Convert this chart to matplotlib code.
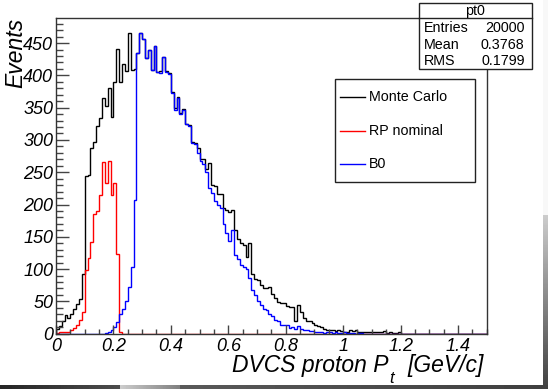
import numpy as np
import matplotlib.pyplot as plt
from matplotlib.patches import Rectangle
from matplotlib.lines import Line2D

plt.rcParams['font.family'] = ['Liberation Sans', 'DejaVu Sans']

# histogram contents, 150 bins of 0.01 GeV/c from 0 to 1.5
n_bins = 150
x_lo, x_hi = 0.0, 1.5

monte_carlo = [8, 12, 20, 29, 24, 30, 38, 46, 54, 92,
               244, 245, 288, 297, 322, 334, 365, 352, 380, 335,
               390, 441, 390, 417, 407, 465, 408, 410, 434, 466,
               457, 427, 440, 408, 446, 405, 406, 429, 407, 404,
               374, 349, 367, 341, 348, 325, 323, 297, 295, 287,
               271, 270, 255, 265, 231, 229, 217, 216, 195, 191,
               189, 192, 160, 147, 141, 137, 118, 140, 93, 85,
               83, 75, 70, 71, 73, 62, 55, 49, 47, 48,
               43, 41, 41, 19, 45, 34, 24, 20, 19, 16,
               13, 12, 10, 8, 6, 6, 5, 4, 5, 4,
               3, 3, 5, 4, 6, 3, 3, 3, 2, 2,
               3, 3, 2, 3, 4, 1, 2, 1, 1, 3]
monte_carlo = monte_carlo + [0] * (n_bins - len(monte_carlo))

rp_nominal = [1, 3, 2, 3, 2, 5, 9, 13, 21, 33,
              99, 117, 142, 185, 190, 214, 266, 233, 268, 214,
              234, 124, 3]
rp_nominal = rp_nominal + [0] * (n_bins - len(rp_nominal))

b0 = [0, 0, 0, 0, 0, 0, 0, 0, 0, 0,
      0, 0, 0, 0, 0, 0, 0, 1, 3, 5,
      10, 18, 31, 38, 50, 73, 104, 207, 434, 466,
      457, 427, 440, 408, 446, 405, 404, 429, 405, 402,
      372, 347, 365, 340, 347, 324, 321, 296, 293, 280,
      268, 262, 250, 225, 218, 206, 200, 195, 170, 156,
      143, 160, 122, 115, 106, 104, 100, 86, 68, 60,
      50, 45, 38, 36, 30, 28, 21, 20, 14, 14,
      13, 9, 11, 7, 12, 7, 6, 5, 4, 4,
      3, 2, 2, 1, 2, 2, 1, 2, 1, 1,
      2, 1, 1, 1, 0, 1, 1]
b0 = b0 + [0] * (n_bins - len(b0))

series_names = ['Monte Carlo', 'RP nominal', 'B0']
series_colors = ['black', 'red', 'blue']

stat_names = ['Entries', 'Mean', 'RMS']
stat_values = ['20000', '0.3768', '0.1799']

x_ticks = [0, 0.2, 0.4, 0.6, 0.8, 1.0, 1.2, 1.4]
x_tick_labels = ['0', '0.2', '0.4', '0.6', '0.8', '1', '1.2', '1.4']
y_ticks = [0, 50, 100, 150, 200, 250, 300, 350, 400, 450]

W, H = 548, 389
fig = plt.figure(figsize=(W / 100, H / 100), dpi=100)
fig.patch.set_facecolor('white')

ax = fig.add_axes([56 / W, 1 - 333.7 / H, (486.7 - 56) / W, (333.7 - 17.7) / H])

edges = np.linspace(x_lo, x_hi, n_bins + 1)
for vals, col in zip([monte_carlo, rp_nominal, b0], series_colors):
    ax.stairs(vals, edges, color=col, lw=1.0)

ax.set_xlim(x_lo, x_hi)
ax.set_ylim(0, 1.05 * max(monte_carlo + b0))

ax.set_xticks(x_ticks)
ax.set_xticklabels(x_tick_labels, fontstyle='italic', fontsize=13)
ax.set_yticks(y_ticks)
ax.set_yticklabels([str(v) for v in y_ticks], fontstyle='italic', fontsize=13)
ax.set_xticks(np.arange(0, 1.501, 0.05), minor=True)
ax.set_yticks(np.arange(0, 481, 10), minor=True)

ax.tick_params(axis='both', which='both', direction='in', top=False, right=False,
               color='#444444', width=1.0)
ax.tick_params(axis='x', which='major', length=6.8, pad=3)
ax.tick_params(axis='x', which='minor', length=3.4)
ax.tick_params(axis='y', which='major', length=9.4, pad=2)
ax.tick_params(axis='y', which='minor', length=4.7)
for s in ax.spines.values():
    s.set_color('#333333')
    s.set_linewidth(1.0)

# axis titles, ROOT style (aligned to the axis ends)
fig.text(15.5 / W, 1 - 18 / H, 'Events', rotation=90, ha='center', va='top',
         fontsize=16.5, fontstyle='italic')

# x title built from pieces so the subscript sits low like ROOT's #it{P}_{t}
rend = fig.canvas.get_renderer()
base_y = 1 - 371.7 / H
sub_y = 1 - 383 / H
p1 = fig.text(0, base_y, 'DVCS proton P', fontsize=16.5, fontstyle='italic', va='baseline')
p2 = fig.text(0, sub_y, 't', fontsize=12, fontstyle='italic', va='baseline')
p3 = fig.text(0, base_y, '[GeV/c]', fontsize=16.5, fontstyle='italic', va='baseline')
w1, w2, w3 = [p.get_window_extent(rend).width for p in (p1, p2, p3)]
x3 = 484 - w3
x2 = x3 - 14 - w2
x1 = x2 - 1 - w1
p1.set_x(x1 / W)
p2.set_x(x2 / W)
p3.set_x(x3 / W)

# stats box
bx0, bx1, by0, by1 = 419, 531.7, 3.3, 69.3
fig.add_artist(Rectangle((bx0 / W, 1 - by1 / H), (bx1 - bx0) / W, (by1 - by0) / H,
                         transform=fig.transFigure, fc='white', ec='#222222', lw=1.0, zorder=5))
fig.add_artist(Line2D([bx0 / W, bx1 / W], [1 - 18.3 / H, 1 - 18.3 / H],
                      transform=fig.transFigure, color='#222222', lw=1.0, zorder=6))
fig.text((bx0 + bx1) / 2 / W, 1 - 11.5 / H, 'pt0', ha='center', va='center',
         fontsize=10.3, zorder=7)
for k, (nm, val) in enumerate(zip(stat_names, stat_values)):
    yy = 1 - (28.5 + 16.4 * k) / H
    fig.text(424.3 / W, yy, nm, ha='left', va='center', fontsize=10.3, zorder=7)
    fig.text(524.5 / W, yy, val, ha='right', va='center', fontsize=10.3, zorder=7)

# legend box
lx0, lx1, ly0, ly1 = 335.3, 475, 79.3, 182.3
fig.add_artist(Rectangle((lx0 / W, 1 - ly1 / H), (lx1 - lx0) / W, (ly1 - ly0) / H,
                         transform=fig.transFigure, fc='white', ec='#222222', lw=1.0, zorder=5))
for k, (nm, col) in enumerate(zip(series_names, series_colors)):
    yy = 1 - (97 + 33.6 * k) / H
    fig.add_artist(Line2D([340 / W, 365 / W], [yy, yy], transform=fig.transFigure,
                          color=col, lw=1.0, zorder=6))
    fig.text(369.3 / W, yy, nm, ha='left', va='center', fontsize=10.3, zorder=7)

# dark border left over from the screenshot
side = fig.add_axes([543 / W, 0, 5 / W, 1])
grad = np.concatenate([np.full(215, 0.97), np.linspace(0.8, 0.25, 174)])[:, None]
side.imshow(grad, aspect='auto', cmap='gray', vmin=0, vmax=1)
side.axis('off')
bottom = fig.add_axes([0, 0, 1, 4 / H])
strip = np.concatenate([np.linspace(0.15, 0.3, 120), np.linspace(0.8, 0.5, 60),
                        np.linspace(0.35, 0.25, 368)])[None, :]
bottom.imshow(strip, aspect='auto', cmap='gray', vmin=0, vmax=1)
bottom.axis('off')

fig.savefig('out.png', dpi=100)
